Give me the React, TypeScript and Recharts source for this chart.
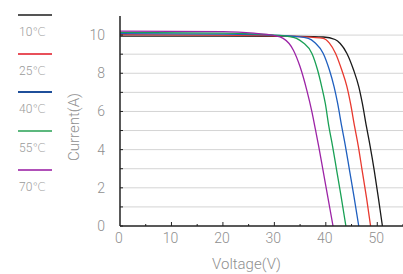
import React from 'react';
import { LineChart, Line, XAxis, YAxis, CartesianGrid, Label } from 'recharts';

const temps = ['10℃', '25℃', '40℃', '55℃', '70℃'];
const colors = ['#1a1a1a', '#e8392f', '#1f5fbf', '#19a055', '#9c24a6'];
const legendColors = ['#555555', '#e8505a', '#1f4f9a', '#5cb87e', '#b050b8'];

// Voltage (V) / Current (A)
const v10 = [0, 20, 35, 39.5, 41.8, 42.8, 44.1, 45.4, 46.4, 47.1, 47.9, 48.6, 49.4, 50.2, 51.0];
const i10 = [9.95, 9.95, 9.93, 9.9, 9.77, 9.56, 9.04, 8.17, 7.3, 6.42, 5.2, 4.2, 2.93, 1.5, 0];

const v25 = [0, 20, 30, 35, 39.5, 40.7, 41.9, 43.1, 44.1, 44.8, 45.6, 46.3, 47.05, 47.9, 48.7];
const i25 = [10.02, 10.0, 9.96, 9.92, 9.83, 9.58, 9.04, 8.17, 7.3, 6.42, 5.2, 4.2, 2.93, 1.5, 0];

const v40 = [0, 20, 30, 34, 36.6, 37.9, 39.5, 40.7, 41.6, 42.3, 43.1, 43.8, 44.6, 45.5, 46.4];
const i40 = [10.08, 10.05, 9.99, 9.93, 9.83, 9.6, 9.04, 8.17, 7.3, 6.42, 5.2, 4.2, 2.93, 1.5, 0];

const v55 = [0, 20, 30, 33, 34.3, 35.6, 37.3, 38.4, 39.2, 39.9, 40.6, 41.3, 42.1, 43.0, 43.9];
const i55 = [10.14, 10.1, 10.0, 9.92, 9.83, 9.6, 9.04, 8.17, 7.3, 6.42, 5.2, 4.2, 2.93, 1.5, 0];

const v70 = [0, 20, 26, 29.8, 31.7, 33.7, 35.0, 36.3, 37.3, 38.0, 38.6, 39.45, 40.4, 41.4];
const i70 = [10.21, 10.18, 10.1, 9.98, 9.83, 9.21, 8.34, 7.12, 5.98, 5.03, 4.2, 2.93, 1.5, 0];

const voltages = [v10, v25, v40, v55, v70];
const currents = [i10, i25, i40, i55, i70];

const xTicks = [0, 5, 10, 15, 20, 25, 30, 35, 40, 45, 50, 55];
const yTicks = [0, 1, 2, 3, 4, 5, 6, 7, 8, 9, 10];
const gridY = [1, 2, 3, 4, 5, 6, 7, 8, 9, 10];

const series = temps.map((t, k) => ({
  name: t,
  color: colors[k],
  data: voltages[k].map((v, j) => ({ v, i: currents[k][j] })),
}));

const FONT = 'Roboto, "DejaVu Sans", sans-serif';
const TXT = '#8f8f8f';

const YTick = (props: any) => {
  const { x, y, payload } = props;
  const axisX = x + 15;
  const val = payload.value;
  return (
    <g>
      <line x1={axisX} x2={axisX + 3} y1={y} y2={y} stroke="#222" strokeWidth={1} />
      {val % 2 === 0 ? (
        <text x={x} y={y} dy="0.36em" textAnchor="end" fill={TXT} fontSize={14} fontWeight={300} fontFamily={FONT}>
          {val}
        </text>
      ) : null}
    </g>
  );
};

const XTick = (props: any) => {
  const { x, y, payload } = props;
  const axisY = y - 7;
  const val = payload.value;
  const major = val % 10 === 0;
  return (
    <g>
      {val !== 0 ? (
        <line x1={x} x2={x} y1={axisY} y2={axisY - (major ? 4 : 2)} stroke="#222" strokeWidth={1} />
      ) : null}
      {major && val <= 50 ? (
        <text x={x - 1} y={y} dy="0.71em" textAnchor="middle" fill={TXT} fontSize={14} fontWeight={300} fontFamily={FONT}>
          {val}
        </text>
      ) : null}
    </g>
  );
};

const XTitle = (props: any) => {
  const vb = props.viewBox;
  return (
    <text x={vb.x + vb.width / 2 - 15} y={vb.y + 43} textAnchor="middle" fill={TXT} fontSize={15} fontWeight={300} fontFamily={FONT}>
      Voltage(V)
    </text>
  );
};

const YTitle = (props: any) => {
  const vb = props.viewBox;
  const cx = vb.x + 74;
  const cy = vb.y + vb.height / 2 + 6;
  return (
    <text
      x={cx}
      y={cy}
      dy="0.36em"
      textAnchor="middle"
      transform={`rotate(-90, ${cx}, ${cy})`}
      fill={TXT}
      fontSize={15}
      fontWeight={300}
      fontFamily={FONT}
    >
      Current(A)
    </text>
  );
};

export default function App() {
  return (
    <div style={{ position: 'absolute', left: 0, top: 0, width: 403, height: 274, background: '#fff' }}>
      <div style={{ position: 'absolute', left: 0, top: 0 }}>
        {series.map((s, k) => (
          <div key={s.name} style={{ position: 'absolute', left: 0, top: 0 }}>
            <div
              style={{
                position: 'absolute',
                left: 18,
                top: 14 + k * 38.7,
                width: 34,
                height: 2,
                background: legendColors[k],
              }}
            />
            <div
              style={{
                position: 'absolute',
                left: 19,
                top: 24 + k * 38.7,
                fontSize: 12,
                fontWeight: 300,
                lineHeight: '16px',
                color: '#9a9a9a',
                fontFamily: FONT,
                whiteSpace: 'nowrap',
              }}
            >
              {s.name}
            </div>
          </div>
        ))}
      </div>
      <LineChart width={403} height={274} margin={{ top: 16, right: 0, bottom: 0, left: 0 }}>
        <CartesianGrid horizontal vertical={false} stroke="#d4d4d4" strokeWidth={1} horizontalValues={gridY} />
        <XAxis
          type="number"
          dataKey="v"
          domain={[0, 55]}
          ticks={xTicks}
          interval={0}
          allowDataOverflow
          height={48}
          tickLine={false}
          tickSize={0}
          tickMargin={7}
          tick={<XTick />}
          axisLine={{ stroke: '#222', strokeWidth: 1.5 }}
        >
          <Label content={<XTitle />} />
        </XAxis>
        <YAxis
          type="number"
          dataKey="i"
          domain={[0, 11]}
          ticks={yTicks}
          interval={0}
          allowDataOverflow
          width={120}
          tickLine={false}
          tickSize={0}
          tickMargin={15}
          tick={<YTick />}
          axisLine={{ stroke: '#222', strokeWidth: 1.5 }}
        >
          <Label content={<YTitle />} />
        </YAxis>
        {series.map((s) => (
          <Line
            key={s.name}
            data={s.data}
            dataKey="i"
            type="monotone"
            stroke={s.color}
            strokeWidth={1.3}
            dot={false}
            isAnimationActive={false}
          />
        ))}
      </LineChart>
    </div>
  );
}
